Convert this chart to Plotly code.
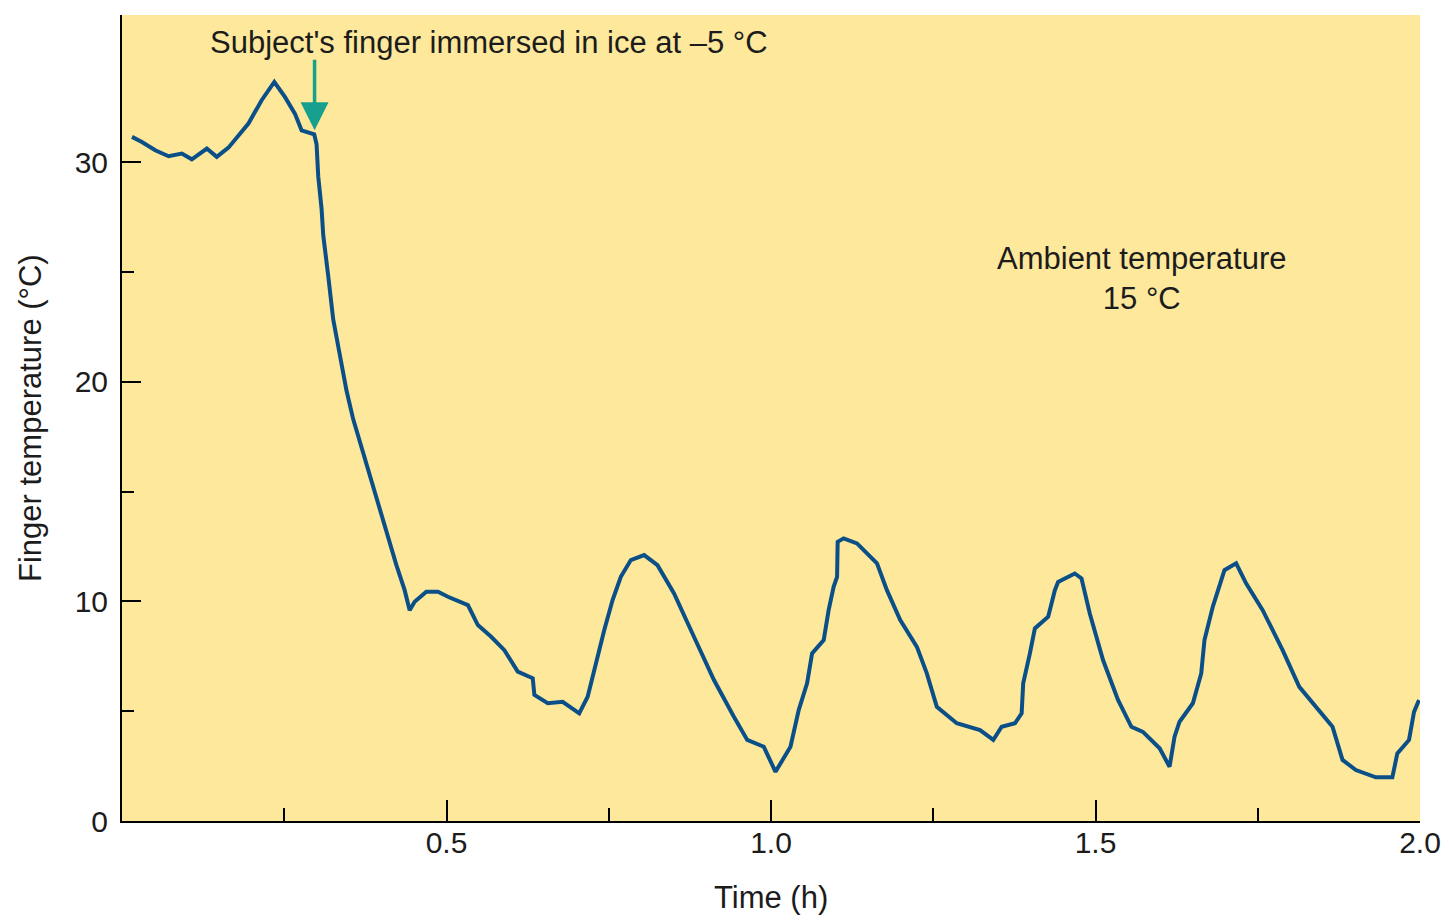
import plotly.graph_objects as go

# Time (h) and finger temperature (°C)
time_h = [0.0154, 0.0307, 0.0512, 0.0718, 0.0922, 0.1076, 0.1307, 0.1460, 0.1640,
          0.1948, 0.2152, 0.2347, 0.2510, 0.2664, 0.2767, 0.2962,
          0.2998, 0.3024, 0.3075, 0.3101, 0.3178, 0.3254, 0.3356, 0.3459, 0.3562,
          0.3689, 0.3817, 0.3946, 0.4074, 0.4228, 0.4355, 0.4432,
          0.4509, 0.4689, 0.4869, 0.5022, 0.5330, 0.5483, 0.5688, 0.5892, 0.6098,
          0.6329, 0.6354, 0.6560, 0.6790, 0.7045, 0.7175, 0.7276, 0.7430, 0.7559,
          0.7686, 0.7840, 0.8045, 0.8251, 0.8506, 0.8813, 0.9121, 0.9428, 0.9634,
          0.9889, 1.0069,
          1.0300, 1.0427, 1.0556, 1.0633, 1.0812, 1.0888, 1.0965, 1.1018, 1.1027,
          1.1119, 1.1325, 1.1633, 1.1786, 1.1991, 1.2248, 1.2401, 1.2555, 1.2862,
          1.3221, 1.3425, 1.3554, 1.3759, 1.3862, 1.3886, 1.3989, 1.4066, 1.4271,
          1.4374, 1.4424, 1.4681, 1.4784, 1.4912, 1.5116, 1.5347,
          1.5553, 1.5731, 1.5988, 1.6141, 1.6218, 1.6295, 1.6500, 1.6629, 1.6679,
          1.6807, 1.6987, 1.7167, 1.7320, 1.7576, 1.7883, 1.8140, 1.8652, 1.8806,
          1.9012, 1.9319, 1.9574, 1.9651, 1.9831, 1.9908, 1.9985]
temp_c = [31.15, 30.92, 30.54, 30.27, 30.39, 30.13, 30.62, 30.24, 30.66,
          31.76, 32.82, 33.65, 32.97, 32.21, 31.45, 31.27,
          30.81, 29.34, 27.88, 26.67, 24.81, 22.85, 21.23, 19.60, 18.30,
          17.00, 15.70, 14.41, 13.11, 11.65, 10.51, 9.60,
          9.98, 10.44, 10.44, 10.21, 9.83, 8.92, 8.39, 7.78, 6.80,
          6.50, 5.74, 5.36, 5.43, 4.90, 5.66, 6.87, 8.69, 10.06,
          11.12, 11.88, 12.11, 11.65, 10.36, 8.39, 6.42, 4.75, 3.69,
          3.38, 2.24,
          3.38, 5.05, 6.27, 7.63, 8.24, 9.60, 10.66, 11.12, 12.71,
          12.87, 12.64, 11.73, 10.51, 9.15, 7.93, 6.72, 5.20, 4.45,
          4.14, 3.69, 4.29, 4.45, 4.90, 6.27, 7.63, 8.77, 9.30,
          10.51, 10.89, 11.27, 11.05, 9.45, 7.33, 5.51,
          4.29, 4.06, 3.31, 2.47, 3.84, 4.52, 5.36, 6.72, 8.24,
          9.75, 11.42, 11.73, 10.82, 9.60, 7.78, 6.11, 4.29, 2.78,
          2.32, 1.99, 1.99, 3.08, 3.69, 4.97, 5.51]

x_tickvals = [0.5, 1.0, 1.5, 2.0]
x_ticktext = ["0.5", "1.0", "1.5", "2.0"]
x_minor = [0.25, 0.75, 1.25, 1.75]
y_tickvals = [0, 10, 20, 30]
y_ticktext = ["0", "10", "20", "30"]
y_minor = [5, 15, 25]

immersion_time = 0.2967
immersion_temp = 31.45
arrow_top_temp = 34.73

FONT = "Liberation Sans, Arial, sans-serif"
TXT = "#1c1c1c"
FS = 31

fig = go.Figure()
fig.add_trace(go.Scatter(
    x=time_h, y=temp_c, mode="lines",
    line=dict(color="#0b4f88", width=4),
    showlegend=False, hoverinfo="skip"))

fig.update_layout(
    width=1441, height=914,
    margin=dict(l=114, r=29, t=7, b=101, autoexpand=False),
    paper_bgcolor="white",
    plot_bgcolor="#fde89c",
    font=dict(family=FONT, size=FS, color=TXT),
    showlegend=False,
)
fig.update_xaxes(
    range=[0, 2.0], showgrid=False, zeroline=False, automargin=False,
    showline=True, linecolor="black", linewidth=2,
    ticks="inside", ticklen=21, tickwidth=2, tickcolor="black",
    tickvals=x_tickvals, ticktext=x_ticktext,
    ticklabelstandoff=-6,
    tickfont=dict(family=FONT, size=30, color=TXT),
    minor=dict(tickvals=x_minor, ticks="inside", ticklen=13, tickwidth=2, tickcolor="black"),
)
fig.update_yaxes(
    range=[0, 36.7], showgrid=False, zeroline=False, automargin=False,
    showline=True, linecolor="black", linewidth=2,
    ticks="inside", ticklen=19, tickwidth=2, tickcolor="black",
    tickvals=y_tickvals, ticktext=y_ticktext,
    ticklabelstandoff=6,
    tickfont=dict(family=FONT, size=30, color=TXT),
    minor=dict(tickvals=y_minor, ticks="inside", ticklen=12, tickwidth=2, tickcolor="black"),
)

# arrow marking immersion
fig.add_annotation(
    x=immersion_time, y=immersion_temp, ax=immersion_time, ay=arrow_top_temp,
    xref="x", yref="y", axref="x", ayref="y",
    text="", showarrow=True, arrowhead=2, arrowsize=1.6, arrowwidth=3.5,
    arrowcolor="#17a08e",
)
fig.add_annotation(
    x=0.565, y=35.46, xref="x", yref="y",
    text="Subject's finger immersed in ice at \u20135 \u00b0C",
    showarrow=False, xanchor="center", yanchor="middle",
    font=dict(family=FONT, size=FS, color=TXT),
)
fig.add_annotation(
    x=1.571, y=24.7, xref="x", yref="y",
    text="Ambient temperature<br>15 \u00b0C",
    showarrow=False, xanchor="center", yanchor="middle",
    font=dict(family=FONT, size=FS, color=TXT),
)
# axis titles
fig.add_annotation(
    x=0, y=0.5, xref="paper", yref="paper", xshift=-92,
    text="Finger temperature (\u00b0C)", textangle=-90,
    showarrow=False, xanchor="center", yanchor="middle",
    font=dict(family=FONT, size=FS, color=TXT),
)
fig.add_annotation(
    x=0.5, y=0, xref="paper", yref="paper", yshift=-76,
    text="Time (h)",
    showarrow=False, xanchor="center", yanchor="middle",
    font=dict(family=FONT, size=FS, color=TXT),
)

fig.write_html("out.html")
